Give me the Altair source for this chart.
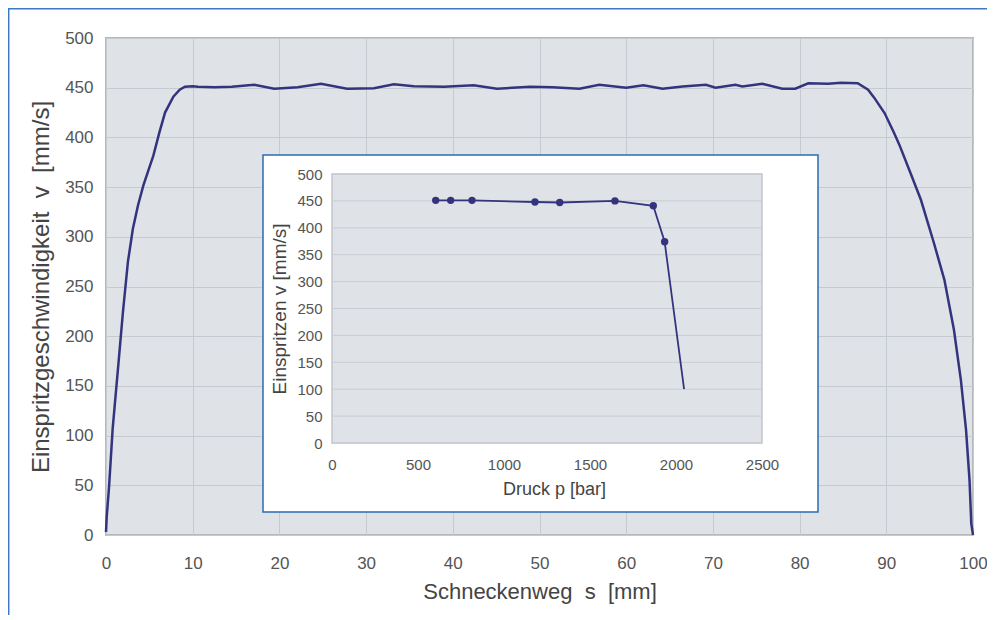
import altair as alt
import pandas as pd

# Main curve: screw travel s [mm] vs injection speed v [mm/s]
s_values = [0, 0.08, 0.34, 0.77, 1.45, 1.95, 2.53, 3.10, 3.70, 4.32, 5.47, 6.16, 6.81, 7.77, 8.5, 9.11, 10.0,
            10.6, 12.5, 14.5, 17.1, 19.4, 22.1, 24.8, 27.8, 30.9, 33.2, 35.5, 39.0, 42.4, 45.1, 48.9, 51.5,
            54.6, 56.9, 60.0, 62.0, 64.2, 66.5, 69.2, 70.3, 72.6, 73.4, 75.7, 78.0, 79.5, 81.0, 83.3, 84.8,
            86.7, 87.9, 88.6, 89.8, 90.9, 91.5, 92.8, 94.0, 95.5, 96.7, 97.8, 98.6, 99.2, 99.6, 99.8, 100]
v_values = [3, 18, 47, 107, 174, 224, 275, 308, 332, 352, 382, 405, 425, 441, 448, 451, 451.5,
            451, 450.5, 451, 453, 449, 450.5, 454, 449, 449.5, 453.5, 451.5, 451, 452.5, 449, 451, 450.5,
            449, 453, 450, 452.5, 449, 451.3, 453, 450, 453, 451.3, 454, 449, 449, 454.5, 454, 455,
            454.5, 448, 440, 424.5, 404.4, 392.7, 364, 337, 293.5, 256.7, 206.5, 156, 105.5, 55, 11.7, 0]

# Inset: pressure p [bar] vs injection speed v [mm/s]
p_values = [603, 690, 814, 1180, 1324, 1645, 1868, 1934, 2047]
pv_values = [451, 451, 451, 448, 447, 450, 441, 374, 100]
marker_count = 8

x_ticks = list(range(0, 101, 10))
y_ticks = list(range(0, 501, 50))
px_ticks = list(range(0, 2501, 500))
py_ticks = list(range(0, 501, 50))

FONT = "Liberation Sans"
LINE = "#34347e"
BLUE = "#3b7ac3"

main_df = pd.DataFrame({"s": s_values, "v": v_values})
inset_df = pd.DataFrame({"p": p_values, "v": pv_values})
marker_df = inset_df.iloc[:marker_count]
grid_df = pd.DataFrame({"g": py_ticks})
one = pd.DataFrame({"a": [0]})

main_line = alt.Chart(main_df).mark_line(color=LINE, strokeWidth=2.5).encode(
    x=alt.X("s:Q", scale=alt.Scale(domain=[0, 100], nice=False),
            axis=alt.Axis(values=x_ticks, title="Schneckenweg\u00a0\u00a0s\u00a0\u00a0[mm]",
                          labelPadding=20, titlePadding=10, titleFontSize=22)),
    y=alt.Y("v:Q", scale=alt.Scale(domain=[0, 500], nice=False),
            axis=alt.Axis(values=y_ticks, title="Einspritzgeschwindigkeit\u00a0\u00a0v\u00a0\u00a0[mm/s]",
                          labelPadding=13, titlePadding=11, titleFontSize=24)),
)

border_left = alt.Chart(one).mark_rule(color=BLUE, strokeWidth=1.5).encode(
    x=alt.value(-97.3), y=alt.value(-30), y2=alt.value(620))
border_top = alt.Chart(one).mark_rule(color=BLUE, strokeWidth=1.5).encode(
    x=alt.value(-98), x2=alt.value(1000), y=alt.value(-29.3))

main_layer = alt.layer(main_line, border_left, border_top)

xs = alt.Scale(domain=[0, 2500], range=[226, 656], nice=False)
ys = alt.Scale(domain=[0, 500], range=[405, 136], nice=False)

inset_box = alt.Chart(one).mark_rect(fill="white", stroke="#2d6bb3", strokeWidth=1.5).encode(
    x=alt.value(157), x2=alt.value(712), y=alt.value(117), y2=alt.value(474))

inset_bg = alt.Chart(one).mark_rect(fill="#dfe3e8", stroke="#c2c6cb", strokeWidth=1.5).encode(
    x=alt.datum(0, scale=xs), x2=alt.datum(2500), y=alt.datum(0, scale=ys), y2=alt.datum(500))

inset_grid = alt.Chart(grid_df).mark_rule(color="#c8cdd3", strokeWidth=1).encode(
    x=alt.datum(0, scale=xs), x2=alt.datum(2500), y=alt.Y("g:Q", scale=ys))

inset_line = alt.Chart(inset_df).mark_line(color=LINE, strokeWidth=1.8).encode(
    x=alt.X("p:Q", scale=xs,
            axis=alt.Axis(orient="bottom", offset=-92, values=px_ticks, grid=False, domain=False,
                          ticks=False, labelPadding=14, title="Druck p [bar]", titlePadding=8,
                          titleX=448, format="d",
                          labelFontSize=15, titleFontSize=18, zindex=2)),
    y=alt.Y("v:Q", scale=ys,
            axis=alt.Axis(orient="left", offset=-226, values=py_ticks, grid=False, domain=False,
                          ticks=False, labelPadding=10, title="Einspritzen v [mm/s]", titlePadding=7,
                          format="d",
                          labelFontSize=15, titleFontSize=19, zindex=2)),
)

inset_points = alt.Chart(marker_df).mark_point(filled=True, color=LINE, size=55, opacity=1).encode(
    x=alt.X("p:Q", scale=xs), y=alt.Y("v:Q", scale=ys))

inset_layer = alt.layer(inset_box, inset_bg, inset_grid, inset_line, inset_points)

chart = alt.layer(main_layer, inset_layer).resolve_scale(
    x="independent", y="independent"
).resolve_axis(
    x="independent", y="independent"
).properties(
    width=867, height=497,
    autosize=alt.AutoSizeParams(type="none"),
    padding={"left": 98, "top": 30, "right": 14, "bottom": 80},
    background="white",
).configure_view(
    fill="#dfe3e8", stroke="#b5b9be", strokeWidth=2
).configure_axis(
    labelFont=FONT, titleFont=FONT, labelFontSize=17, titleFontSize=21,
    labelColor="#555555", titleColor="#444444", titleFontWeight="normal",
    gridColor="#c5cad0", gridWidth=1, domain=False, ticks=False, labelFlush=False,
)

chart.save("out.html", embed_options={"renderer": "svg", "actions": False})
